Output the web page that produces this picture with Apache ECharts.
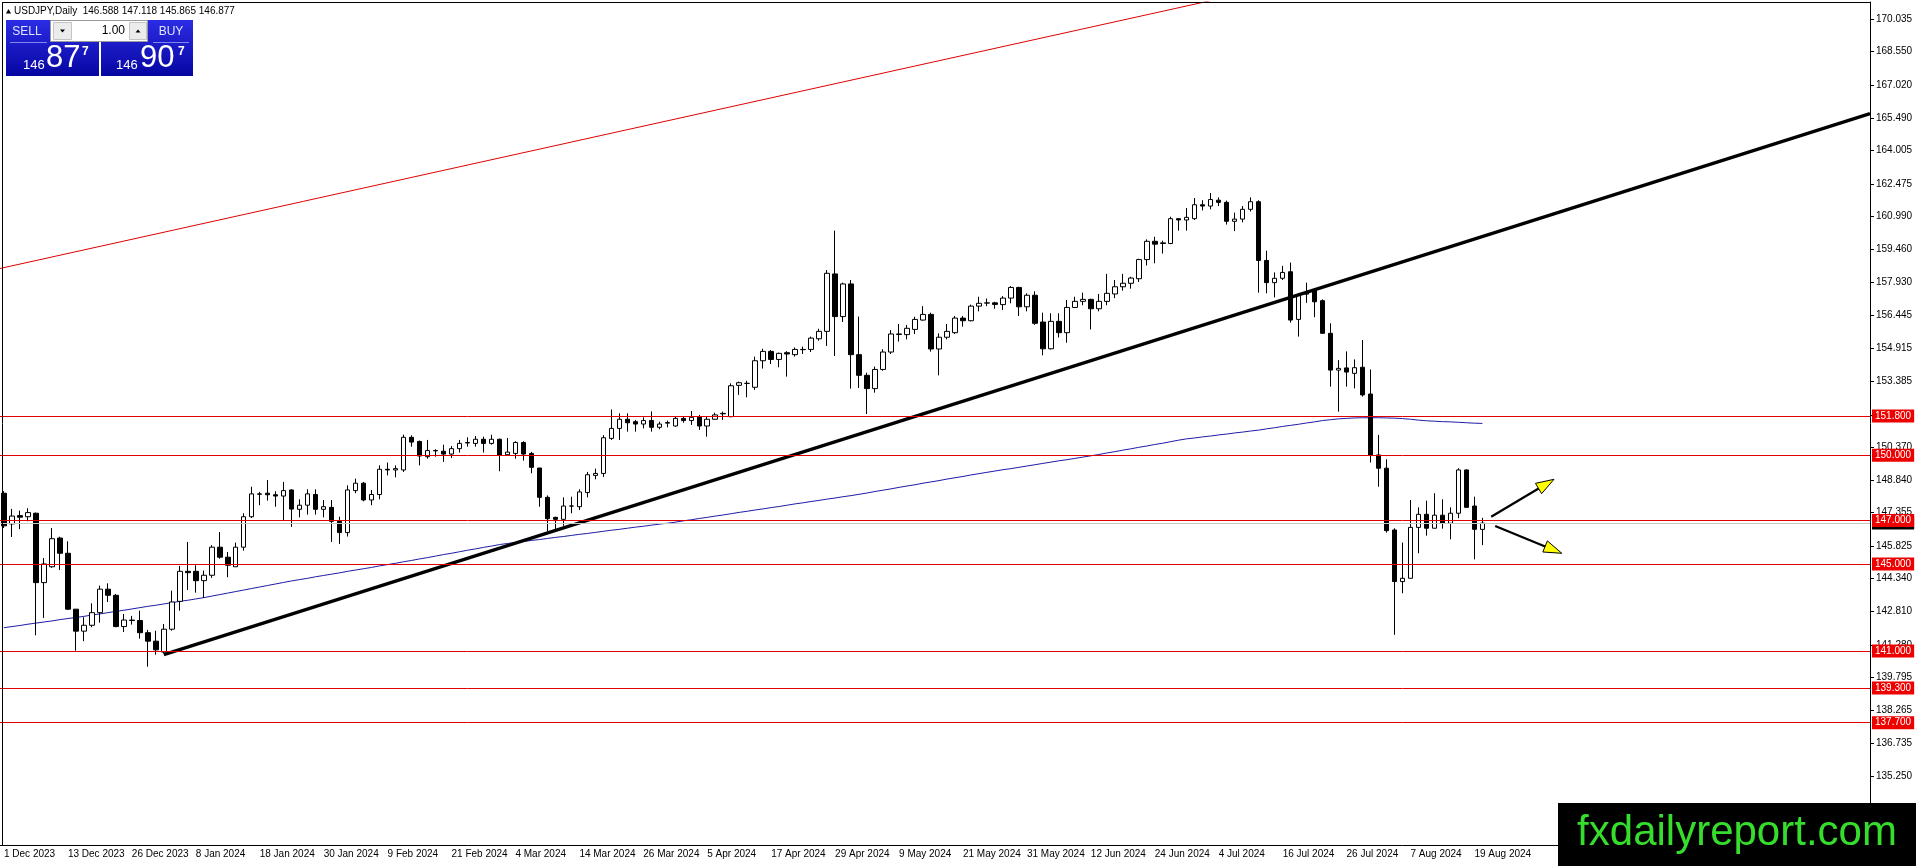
<!DOCTYPE html>
<html>
<head>
<meta charset="utf-8">
<title>USDJPY Daily</title>
<script src="https://cdn.jsdelivr.net/npm/echarts@6.0.0/dist/echarts.min.js"></script>
<style>
  html, body { margin: 0; padding: 0; background: #fff; }
  #chart { width: 1916px; height: 866px; }
</style>
</head>
<body>
<div id="chart"></div>
<script>
// daily bars, MT4 order: open, high, low, close (1 Dec 2023 .. 20 Aug 2024)
const ohlc = [
  [148.25,148.35,146.65,146.75],[146.84,147.53,146.24,147.20],[147.22,147.45,146.60,147.15],[147.17,147.56,146.96,147.36],
  [147.33,147.36,141.72,144.14],[144.14,145.27,142.52,145.00],[144.87,146.65,144.82,146.16],[146.19,146.25,144.72,145.49],
  [145.49,146.04,142.88,142.92],[142.92,142.92,141.01,141.91],[141.91,142.55,141.45,142.18],[142.18,143.19,142.09,142.76],
  [142.76,144.00,142.30,143.84],[143.84,144.11,143.25,143.56],[143.56,143.62,142.09,142.12],[142.12,142.70,141.87,142.42],
  [142.42,142.61,142.21,142.40],[142.40,142.85,141.57,141.84],[141.84,141.97,140.28,141.45],[141.45,141.93,140.83,141.05],
  [140.95,142.24,140.89,142.00],[142.00,143.77,141.93,143.25],[143.28,144.91,142.85,144.66],[144.66,146.01,143.80,144.60],
  [144.66,144.94,143.68,144.23],[144.23,144.69,143.44,144.48],[144.48,145.86,144.36,145.77],[145.77,146.47,145.24,145.31],
  [145.31,145.55,144.39,144.94],[144.87,145.98,144.87,145.77],[145.77,147.33,145.61,147.17],[147.17,148.55,147.11,148.22],
  [148.20,148.31,147.70,148.22],[148.25,148.86,147.91,148.18],[148.18,148.34,147.63,148.12],[148.12,148.77,147.02,148.37],
  [148.40,148.43,146.70,147.52],[147.51,147.97,147.14,147.70],[147.70,148.43,147.27,148.22],[148.19,148.43,147.27,147.51],
  [147.51,147.94,147.14,147.63],[147.60,147.94,146.01,146.96],[146.96,147.17,145.92,146.44],[146.44,148.61,146.26,148.40],
  [148.37,148.92,148.25,148.71],[148.71,148.77,147.88,147.94],[147.94,148.40,147.70,148.19],[148.19,149.53,147.97,149.35],
  [149.35,149.66,149.07,149.32],[149.32,149.53,148.98,149.38],[149.32,150.94,149.23,150.82],[150.82,150.91,150.39,150.60],
  [150.63,150.67,149.53,149.96],[149.93,150.70,149.84,150.21],[150.21,150.27,149.93,150.20],[150.18,150.48,149.69,150.05],
  [150.05,150.42,149.87,150.30],[150.30,150.70,150.12,150.54],[150.56,150.82,150.39,150.58],[150.54,150.88,150.39,150.73],
  [150.73,150.85,150.12,150.54],[150.54,150.94,150.48,150.73],[150.73,150.76,149.26,149.99],[150.02,150.79,149.96,150.14],
  [150.08,150.64,149.84,150.58],[150.58,150.64,149.75,150.05],[150.08,150.15,149.17,149.44],[149.41,149.41,147.63,148.06],
  [148.06,148.15,146.50,147.08],[147.14,147.17,146.59,147.05],[147.05,148.06,146.75,147.66],[147.66,148.09,147.33,147.66],
  [147.63,148.43,147.48,148.31],[148.28,149.23,148.06,149.10],[149.07,149.38,148.89,149.16],[149.16,150.92,149.00,150.80],
  [150.77,152.10,150.70,151.23],[151.23,151.92,150.70,151.65],[151.65,151.92,151.08,151.49],[151.54,151.62,151.08,151.43],
  [151.43,151.74,151.23,151.59],[151.59,152.01,151.08,151.28],[151.28,151.54,151.19,151.43],[151.47,151.59,151.28,151.50],
  [151.34,151.77,151.31,151.69],[151.69,151.77,151.49,151.59],[151.59,152.03,151.39,151.74],[151.74,151.85,151.16,151.34],
  [151.34,151.77,150.85,151.65],[151.65,151.95,151.62,151.85],[151.90,152.00,151.62,151.92],[151.77,153.30,151.74,153.19],
  [153.21,153.38,152.77,153.33],[153.30,153.42,152.66,153.30],[153.12,154.53,153.00,154.34],[154.34,154.89,153.98,154.77],
  [154.77,154.83,154.19,154.40],[154.40,154.71,154.04,154.68],[154.71,154.78,153.61,154.65],[154.62,154.95,154.53,154.86],
  [154.86,154.99,154.65,154.85],[154.86,155.45,154.74,155.38],[155.35,155.81,155.26,155.69],[155.69,158.51,155.02,158.36],
  [158.33,160.32,154.56,156.37],[156.37,157.93,156.12,157.87],[157.87,158.05,153.06,154.62],[154.62,156.37,153.09,153.67],
  [153.67,153.79,151.89,153.06],[153.06,154.07,152.87,153.94],[153.94,154.87,153.88,154.74],[154.74,155.75,154.65,155.57],
  [155.57,156.03,155.22,155.55],[155.54,155.98,155.32,155.83],[155.78,156.36,155.57,156.24],[156.21,156.85,156.18,156.47],
  [156.47,156.55,154.76,154.88],[154.88,155.60,153.67,155.42],[155.42,156.03,155.32,155.69],[155.63,156.40,155.57,156.30],
  [156.30,156.40,155.91,156.18],[156.18,156.92,156.15,156.85],[156.85,157.28,156.61,156.98],[156.99,157.20,156.85,157.00],
  [157.00,157.05,156.73,156.93],[156.92,157.31,156.67,157.22],[157.22,157.77,156.98,157.71],[157.71,157.74,156.40,156.82],
  [156.82,157.44,156.61,157.35],[157.35,157.53,155.99,156.06],[156.12,156.55,154.59,154.89],[154.89,156.52,154.86,156.15],
  [156.15,156.52,155.41,155.63],[155.63,157.13,155.17,156.79],[156.79,157.28,156.76,157.07],[157.07,157.47,156.89,157.16],
  [157.16,157.19,155.78,156.73],[156.73,157.41,156.61,157.07],[157.07,158.33,156.89,157.44],[157.41,158.05,157.22,157.74],
  [157.74,158.33,157.56,157.90],[157.90,158.20,157.65,158.14],[158.11,159.03,157.96,158.99],[158.99,159.92,158.72,159.83],
  [159.83,160.04,158.82,159.70],[159.73,159.86,159.27,159.76],[159.73,160.96,159.70,160.87],[160.87,160.90,160.32,160.81],
  [160.81,161.36,160.32,160.93],[160.87,161.82,160.81,161.51],[161.51,161.72,161.25,161.45],[161.45,162.05,161.30,161.75],
  [161.72,161.85,161.45,161.62],[161.62,161.70,160.60,160.75],[160.75,161.15,160.30,160.85],[160.85,161.45,160.70,161.30],
  [161.30,161.85,161.20,161.65],[161.65,161.72,157.47,158.95],[158.95,159.40,157.44,157.93],[157.93,158.40,157.25,158.13],
  [158.13,158.70,158.05,158.40],[158.43,158.85,156.09,156.21],[156.24,157.44,155.45,157.36],[157.40,157.93,157.00,157.47],
  [157.56,157.62,156.34,157.05],[157.10,157.16,155.60,155.60],[155.60,156.06,153.15,153.91],[153.91,154.37,152.00,153.99],
  [154.01,154.77,153.15,153.82],[153.76,154.40,153.07,154.02],[154.04,155.29,152.69,152.77],[152.81,153.94,149.66,150.01],
  [150.01,150.93,148.55,149.40],[149.40,149.81,146.44,146.53],[146.56,146.64,141.74,144.19],[144.19,145.98,143.65,144.34],
  [144.34,147.94,144.34,146.68],[146.68,147.60,145.49,147.28],[147.28,147.91,146.30,146.64],[146.64,148.25,146.64,147.24],
  [147.24,147.97,146.62,146.87],[146.87,147.60,146.13,147.33],[147.33,149.40,147.10,149.32],[149.32,149.35,147.60,147.60],
  [147.66,148.09,145.21,146.59],[146.588,147.118,145.865,146.877]
];

// blue moving average, one value per bar
const maValues = [
  142.07,142.12,142.17,142.23,142.28,142.33,142.38,142.44,142.49,142.54,142.59,142.65,142.70,
  142.76,142.82,142.87,142.93,142.99,143.05,143.10,143.16,143.22,143.28,143.33,143.39,143.45,
  143.52,143.59,143.66,143.73,143.80,143.87,143.94,144.01,144.08,144.15,144.22,
  144.28,144.34,144.41,144.47,144.53,144.59,144.66,144.72,144.78,144.84,144.91,144.97,145.03,
  145.10,145.16,145.23,145.29,145.36,145.43,145.49,145.56,145.63,145.69,145.76,145.82,145.89,
  145.94,145.98,146.03,146.08,146.12,146.17,146.22,146.26,146.31,146.36,146.40,146.45,146.50,
  146.55,146.59,146.64,146.69,146.73,146.78,146.83,146.87,146.92,
  146.98,147.03,147.09,147.14,147.20,147.25,147.31,147.37,147.42,147.48,147.53,147.59,147.64,
  147.70,147.76,147.81,147.87,147.92,147.98,148.03,148.09,148.14,148.20,
  148.26,148.33,148.39,148.45,148.52,148.58,148.64,148.71,148.77,148.83,148.90,148.96,149.02,149.09,149.15,
  149.21,149.27,149.33,149.38,149.44,149.50,149.56,149.62,149.68,149.74,149.79,149.85,149.91,149.97,150.03,
  150.10,150.16,150.23,150.29,150.36,150.42,150.49,150.55,150.62,150.69,150.75,
  150.79,150.84,150.88,150.93,150.97,151.02,151.06,151.11,151.15,
  151.21,151.26,151.32,151.37,151.42,151.48,151.53,151.59,
  151.63,151.67,151.69,151.71,151.72,151.72,151.72,151.71,151.70,151.68,151.65,151.61,
  151.58,151.56,151.54,151.53,151.51,151.49,151.47,151.46
];

// horizontal levels drawn in red
const levels = [151.8, 150.0, 147.0, 145.0, 141.0, 139.3, 137.7];
const bidPrice = 146.877;
const askPrice = 146.907;

// trendlines, [bar, price] anchors
const supportLine = [[20, 140.83], [233.5, 165.70]];
const channelLine = [[-0.5, 158.58], [156, 171.30]];

// arrows: [fromBar, fromPrice, toBar, toPrice]
const arrows = [
  [186.1, 147.17, 193.96, 148.89],
  [186.6, 146.74, 194.93, 145.49]
];

const priceTicks = [170.035, 168.550, 167.020, 165.490, 164.005, 162.475, 160.990, 159.460, 157.930,
  156.445, 154.915, 153.385, 151.855, 150.370, 148.840, 147.355, 145.825, 144.340, 142.810,
  141.280, 139.795, 138.265, 136.735, 135.250, 133.720];

const dateTicks = ['1 Dec 2023', '13 Dec 2023', '26 Dec 2023', '8 Jan 2024', '18 Jan 2024', '30 Jan 2024',
  '9 Feb 2024', '21 Feb 2024', '4 Mar 2024', '14 Mar 2024', '26 Mar 2024', '5 Apr 2024', '17 Apr 2024',
  '29 Apr 2024', '9 May 2024', '21 May 2024', '31 May 2024', '12 Jun 2024', '24 Jun 2024', '4 Jul 2024',
  '16 Jul 2024', '26 Jul 2024', '7 Aug 2024', '19 Aug 2024'];

const closedDays = ['2023-12-25', '2024-01-01'];
const barSlots = 234;   // visible bars incl. the empty shift area on the right

const MONTHS = ['Jan','Feb','Mar','Apr','May','Jun','Jul','Aug','Sep','Oct','Nov','Dec'];
function tradingDays(startIso, n) {
  const out = [];
  const d = new Date(startIso + 'T00:00:00Z');
  while (out.length < n) {
    const wd = d.getUTCDay();
    const iso = d.toISOString().slice(0, 10);
    if (wd !== 0 && wd !== 6 && closedDays.indexOf(iso) < 0) {
      out.push(d.getUTCDate() + ' ' + MONTHS[d.getUTCMonth()] + ' ' + d.getUTCFullYear());
    }
    d.setUTCDate(d.getUTCDate() + 1);
  }
  return out;
}
const dates = tradingDays('2023-12-01', barSlots);

const FONT = '"Liberation Sans", Arial, sans-serif';
const candleData = ohlc.map(function (b) { return [b[0], b[3], b[2], b[1]]; });
const last = ohlc[ohlc.length - 1];

function splitQuote(p) {
  const s = p.toFixed(3);
  return [s.slice(0, 3), s.slice(4, 6), s.slice(6)];
}
const bidParts = splitQuote(bidPrice);
const askParts = splitQuote(askPrice);

const showDate = function (idx, val) { return dateTicks.indexOf(val) >= 0; };

const levelMarks = [{
  yAxis: bidPrice,
  lineStyle: { color: '#c8c8c8', type: 'solid', width: 1 },
  label: { backgroundColor: '#000' }
}].concat(levels.map(function (v) { return { yAxis: v }; }));

const chart = echarts.init(document.getElementById('chart'), null, { renderer: 'canvas' });

const blueFill = new echarts.graphic.LinearGradient(0, 0, 0, 1, [
  { offset: 0, color: '#2c2ce4' }, { offset: 1, color: '#0606a2' }
]);

chart.setOption({
  backgroundColor: '#ffffff',
  animation: false,
  grid: { left: -0.7, right: 46, top: 2, bottom: 21 },
  xAxis: [{
    type: 'category',
    data: dates,
    boundaryGap: true,
    axisLine: { onZero: false, lineStyle: { color: '#000', width: 1 } },
    axisTick: { alignWithLabel: true, interval: showDate, length: 4, lineStyle: { color: '#000' } },
    axisLabel: { interval: showDate, align: 'left', margin: 4, color: '#000', fontSize: 10, fontFamily: FONT },
    splitLine: { show: false }
  }, {
    type: 'value',
    min: -0.5,
    max: barSlots - 0.5,
    show: false,
    axisLine: { show: false, onZero: false },
    axisTick: { show: false },
    axisLabel: { show: false },
    splitLine: { show: false }
  }],
  yAxis: {
    type: 'value',
    position: 'right',
    min: 132.08,
    max: 170.83,
    axisLine: { show: true, onZero: false, lineStyle: { color: '#000', width: 1 } },
    axisTick: { show: true, length: 4, customValues: priceTicks, lineStyle: { color: '#000' } },
    axisLabel: {
      customValues: priceTicks, margin: 6, color: '#000', fontSize: 10, fontFamily: FONT,
      formatter: function (v) { return v.toFixed(3); }
    },
    splitLine: { show: false }
  },
  series: [{
    type: 'line',
    name: 'MA',
    data: maValues,
    symbol: 'none',
    lineStyle: { color: '#1c1ca6', width: 1 },
    z: 1
  }, {
    type: 'candlestick',
    name: 'USDJPY',
    data: candleData,
    barWidth: 5,
    itemStyle: { color: '#ffffff', color0: '#000000', borderColor: '#000000', borderColor0: '#000000', borderWidth: 1 },
    z: 2,
    markLine: {
      silent: true,
      symbol: ['none', 'none'],
      lineStyle: { color: '#e00000', type: 'solid', width: 1 },
      label: {
        position: 'end', distance: 2, color: '#fff', backgroundColor: '#ee0000',
        padding: [2, 3, 1, 3], fontSize: 10, fontFamily: FONT,
        formatter: function (p) { return p.value.toFixed(3); }
      },
      data: levelMarks
    }
  }, {
    type: 'line',
    name: 'support',
    xAxisIndex: 1,
    data: supportLine,
    symbol: 'none',
    lineStyle: { color: '#000', width: 3.2 },
    z: 3
  }, {
    type: 'line',
    name: 'channel',
    xAxisIndex: 1,
    data: channelLine,
    symbol: 'none',
    lineStyle: { color: '#e00000', width: 1 },
    z: 3
  }, {
    type: 'custom',
    name: 'arrows',
    xAxisIndex: 1,
    data: arrows,
    encode: { x: [0, 2], y: [1, 3] },
    z: 4,
    renderItem: function (params, api) {
      const a = api.coord([api.value(0), api.value(1)]);
      const b = api.coord([api.value(2), api.value(3)]);
      const dx = b[0] - a[0], dy = b[1] - a[1];
      const len = Math.sqrt(dx * dx + dy * dy);
      const ux = dx / len, uy = dy / len;
      const hl = 18, hw = 6;
      const bx = b[0] - ux * hl, by = b[1] - uy * hl;
      return {
        type: 'group',
        children: [{
          type: 'line',
          shape: { x1: a[0], y1: a[1], x2: bx + ux * 2, y2: by + uy * 2 },
          style: { stroke: '#000', lineWidth: 2.2 }
        }, {
          type: 'polygon',
          shape: { points: [[b[0], b[1]], [bx - uy * hw, by + ux * hw], [bx + uy * hw, by - ux * hw]] },
          style: { fill: '#ffff00', stroke: '#000', lineWidth: 1 }
        }]
      };
    }
  }],
  graphic: [
    // chart frame (top / left)
    { type: 'line', id: 'frameTop', shape: { x1: 2, y1: 2.5, x2: 1870, y2: 2.5 }, style: { stroke: '#000', lineWidth: 1 }, z: 10 },
    { type: 'line', id: 'frameLeft', shape: { x1: 2.5, y1: 2, x2: 2.5, y2: 845 }, style: { stroke: '#000', lineWidth: 1 }, z: 10 },
    // header
    { type: 'polygon', id: 'hdrTri', shape: { points: [[6, 13.5], [11, 13.5], [8.5, 9]] }, style: { fill: '#000' }, z: 20 },
    {
      type: 'text', id: 'hdrText', x: 14, y: 11, z: 20,
      style: {
        text: 'USDJPY,Daily  ' + last.map(function (v) { return v.toFixed(3); }).join(' '),
        font: '10px ' + FONT, fill: '#000', textVerticalAlign: 'middle', verticalAlign: 'middle'
      }
    },
    // one-click trading panel
    { type: 'rect', id: 'sellBox', shape: { x: 6, y: 20, width: 93, height: 56 }, style: { fill: blueFill }, z: 20 },
    { type: 'rect', id: 'buyBox', shape: { x: 101, y: 20, width: 92, height: 56 }, style: { fill: blueFill }, z: 20 },
    { type: 'rect', id: 'lotBox', shape: { x: 50.5, y: 20.5, width: 97, height: 21 }, style: { fill: '#fff', stroke: '#9a9a9a', lineWidth: 1 }, z: 21 },
    { type: 'rect', id: 'lotDn', shape: { x: 53.5, y: 22.5, width: 18, height: 17 }, style: { fill: '#ececec', stroke: '#c4c4c4', lineWidth: 1 }, z: 22 },
    { type: 'rect', id: 'lotUp', shape: { x: 129.5, y: 22.5, width: 17, height: 17 }, style: { fill: '#ececec', stroke: '#c4c4c4', lineWidth: 1 }, z: 22 },
    { type: 'polygon', id: 'lotDnTri', shape: { points: [[60, 29.5], [65, 29.5], [62.5, 32.5]] }, style: { fill: '#000' }, z: 23 },
    { type: 'polygon', id: 'lotUpTri', shape: { points: [[135.5, 32.5], [140.5, 32.5], [138, 29.5]] }, style: { fill: '#000' }, z: 23 },
    {
      type: 'text', id: 'lotText', x: 125, y: 31, z: 23,
      style: { text: '1.00', font: '12px ' + FONT, fill: '#000', textAlign: 'right', align: 'right', textVerticalAlign: 'middle', verticalAlign: 'middle' }
    },
    { type: 'line', id: 'sellSep', shape: { x1: 10, y1: 42.5, x2: 47, y2: 42.5 }, style: { stroke: '#7f86f0', lineWidth: 1 }, z: 22 },
    { type: 'line', id: 'buySep', shape: { x1: 153, y1: 42.5, x2: 189, y2: 42.5 }, style: { stroke: '#7f86f0', lineWidth: 1 }, z: 22 },
    {
      type: 'text', id: 'sellText', x: 27, y: 32, z: 23,
      style: { text: 'SELL', font: '12px ' + FONT, fill: '#dfe5ff', textAlign: 'center', align: 'center', textVerticalAlign: 'middle', verticalAlign: 'middle' }
    },
    {
      type: 'text', id: 'buyText', x: 171, y: 32, z: 23,
      style: { text: 'BUY', font: '12px ' + FONT, fill: '#dfe5ff', textAlign: 'center', align: 'center', textVerticalAlign: 'middle', verticalAlign: 'middle' }
    },
    {
      type: 'text', id: 'bidA', x: 23, y: 72, z: 23,
      style: { text: bidParts[0], font: '13px ' + FONT, fill: '#fff', textVerticalAlign: 'bottom', verticalAlign: 'bottom' }
    },
    {
      type: 'text', id: 'bidB', x: 46, y: 74, z: 23,
      style: { text: bidParts[1], font: '31px ' + FONT, fill: '#fff', textVerticalAlign: 'bottom', verticalAlign: 'bottom' }
    },
    {
      type: 'text', id: 'bidC', x: 82, y: 46, z: 23,
      style: { text: bidParts[2], font: 'bold 12px ' + FONT, fill: '#fff', textVerticalAlign: 'top', verticalAlign: 'top' }
    },
    {
      type: 'text', id: 'askA', x: 116, y: 72, z: 23,
      style: { text: askParts[0], font: '13px ' + FONT, fill: '#fff', textVerticalAlign: 'bottom', verticalAlign: 'bottom' }
    },
    {
      type: 'text', id: 'askB', x: 140, y: 74, z: 23,
      style: { text: askParts[1], font: '31px ' + FONT, fill: '#fff', textVerticalAlign: 'bottom', verticalAlign: 'bottom' }
    },
    {
      type: 'text', id: 'askC', x: 178, y: 46, z: 23,
      style: { text: askParts[2], font: 'bold 12px ' + FONT, fill: '#fff', textVerticalAlign: 'top', verticalAlign: 'top' }
    },
    // watermark
    { type: 'rect', id: 'wmBox', shape: { x: 1558, y: 803, width: 358, height: 63 }, style: { fill: '#000' }, z: 100 },
    {
      type: 'text', id: 'wmText', x: 1737, y: 833, z: 101,
      style: { text: 'fxdailyreport.com', font: '42px ' + FONT, fill: '#36dd2c', textAlign: 'center', align: 'center', textVerticalAlign: 'middle', verticalAlign: 'middle' }
    }
  ]
});
</script>
</body>
</html>
